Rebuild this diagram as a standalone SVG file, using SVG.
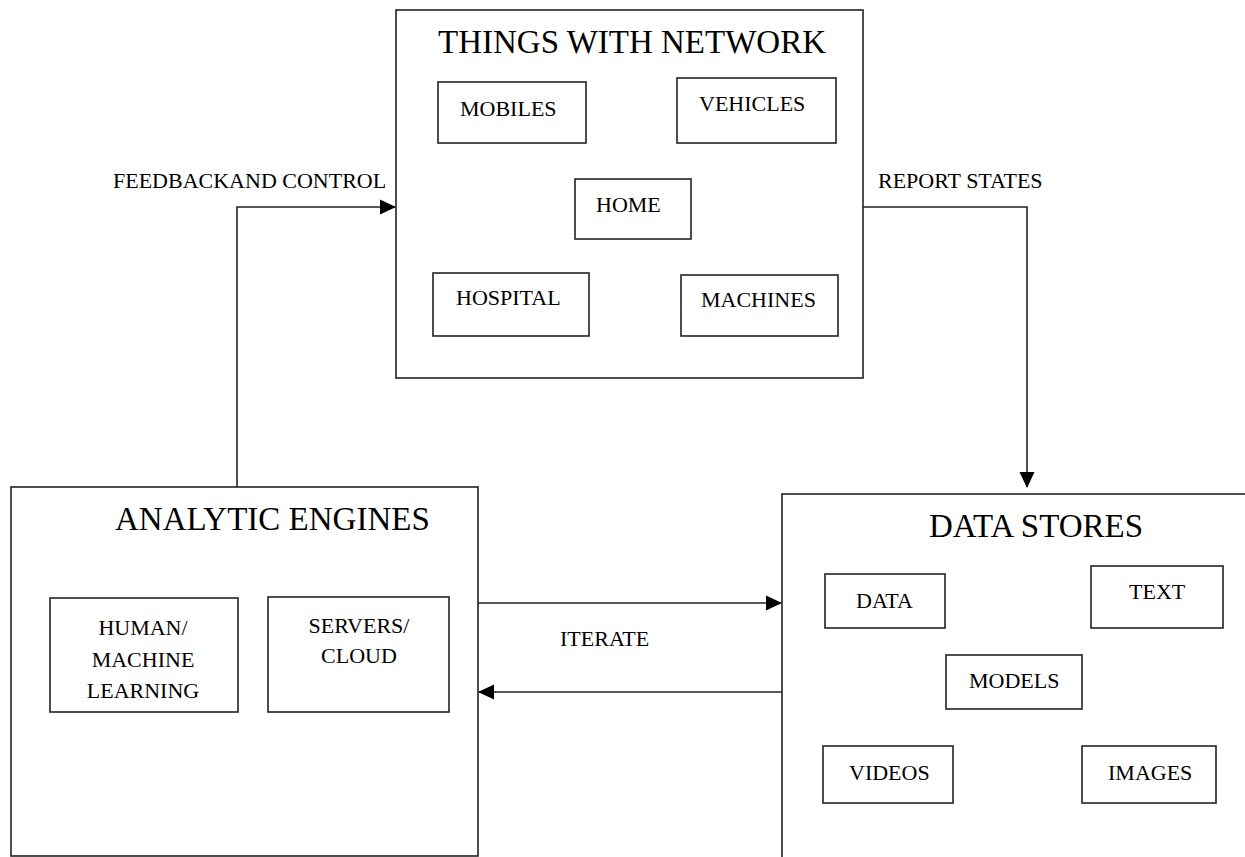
<svg xmlns="http://www.w3.org/2000/svg" width="1245" height="857" viewBox="0 0 1245 857">
<style>
.box{fill:#fff;stroke:#222;stroke-width:1.6}
.conn{fill:none;stroke:#222;stroke-width:1.6}
text{font-family:"Liberation Serif","Times New Roman",serif;fill:#000}
.t{font-size:33px}
.s{font-size:22px}
.m{text-anchor:middle}
</style>
<defs>
<marker id="arr" markerUnits="userSpaceOnUse" markerWidth="16" markerHeight="16" viewBox="0 0 16 16" refX="15" refY="8" orient="auto">
<path d="M0,0.5 L16,8 L0,15.5 Z" fill="#000"/>
</marker>
</defs>
<rect width="1245" height="857" fill="#fff"/>
<g id="connectors">
<path class="conn" d="M237,487 V207 H395" marker-end="url(#arr)"/>
<path class="conn" d="M863,207 H1027 V487" marker-end="url(#arr)"/>
<path class="conn" d="M478,603 H781" marker-end="url(#arr)"/>
<path class="conn" d="M783,692 H479" marker-end="url(#arr)"/>
<text class="s" x="113" y="188">FEEDBACKAND CONTROL</text>
<text class="s" x="878" y="188">REPORT STATES</text>
<text class="s" x="560" y="646">ITERATE</text>
</g>
<g id="things">
<rect class="box" x="396" y="10" width="467" height="368"/>
<text class="t" x="438" y="53">THINGS WITH NETWORK</text>
</g>
<g id="mobiles"><rect class="box" x="438" y="82" width="148" height="61"/><text class="s" x="460" y="116">MOBILES</text></g>
<g id="vehicles"><rect class="box" x="677" y="78" width="159" height="65"/><text class="s" x="699" y="111">VEHICLES</text></g>
<g id="home"><rect class="box" x="575" y="179" width="116" height="60"/><text class="s" x="596" y="212">HOME</text></g>
<g id="hospital"><rect class="box" x="433" y="273" width="156" height="63"/><text class="s" x="456" y="305">HOSPITAL</text></g>
<g id="machines"><rect class="box" x="681" y="275" width="157" height="61"/><text class="s" x="701" y="307">MACHINES</text></g>
<g id="analytic">
<rect class="box" x="11" y="487" width="467" height="369"/>
<text class="t" x="115" y="530">ANALYTIC ENGINES</text>
</g>
<g id="human"><rect class="box" x="50" y="598" width="188" height="114"/>
<text class="s m" x="143" y="635">HUMAN/</text><text class="s m" x="143" y="667">MACHINE</text><text class="s m" x="143" y="698">LEARNING</text></g>
<g id="servers"><rect class="box" x="268" y="597" width="181" height="115"/>
<text class="s m" x="359" y="633">SERVERS/</text><text class="s m" x="359" y="663">CLOUD</text></g>
<g id="datastores">
<rect class="box" x="782" y="494" width="480" height="380"/>
<text class="t" x="929" y="537">DATA STORES</text>
</g>
<g id="data"><rect class="box" x="825" y="574" width="120" height="54"/><text class="s" x="856" y="608">DATA</text></g>
<g id="text"><rect class="box" x="1091" y="566" width="132" height="62"/><text class="s" x="1129" y="599">TEXT</text></g>
<g id="models"><rect class="box" x="946" y="655" width="136" height="54"/><text class="s" x="969" y="688">MODELS</text></g>
<g id="videos"><rect class="box" x="823" y="746" width="130" height="57"/><text class="s" x="849" y="780">VIDEOS</text></g>
<g id="images"><rect class="box" x="1082" y="746" width="134" height="57"/><text class="s" x="1108" y="780">IMAGES</text></g>
</svg>
